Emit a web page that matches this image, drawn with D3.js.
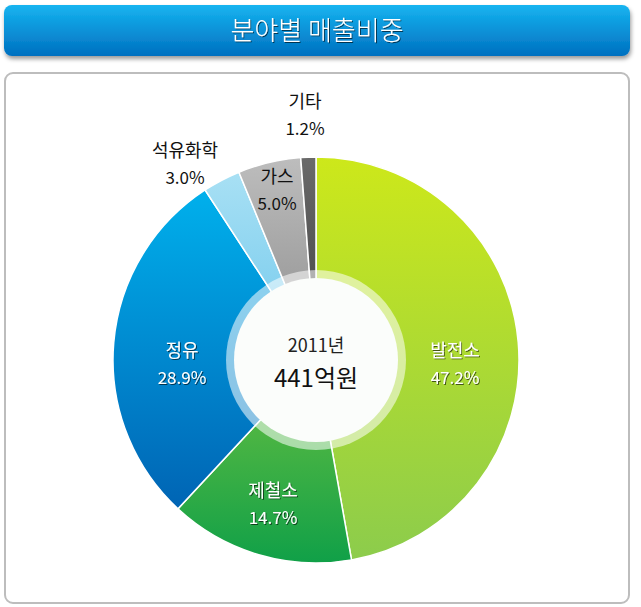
<!DOCTYPE html>
<html><head><meta charset="utf-8">
<script src="https://cdn.jsdelivr.net/npm/d3@7"></script>
<style>body{margin:0;background:#fff;font-family:"Noto Sans CJK KR","DejaVu Serif",serif;}</style>
</head><body>
<svg id="chart" width="641" height="607"></svg>
<script>
var categories = ["발전소", "제철소", "정유", "석유화학", "가스", "기타"];
var shares = [47.2, 14.7, 28.9, 3.0, 5.0, 1.2];
var colorsLight = ["#cde81a", "#6cc040", "#00b0ec", "#a8e0f4", "#bdbdbd", "#6a6a6a"];
var colorsDark = ["#8ccc4c", "#10a048", "#0064b4", "#70c8ec", "#8c8c8c", "#404040"];
// label anchors: inside (white) or outside (black), with custom positions
var labelPos = [[455, 357], [273, 497], [182, 357], [185, 157], [277, 183], [305, 108]];
var labelInside = [true, true, true, false, false, false];

var svg = d3.select("#chart");
var defs = svg.append("defs");

var tg = defs.append("linearGradient").attr("id", "titleGrad").attr("x1", 0).attr("y1", 0).attr("x2", 0).attr("y2", 1);
tg.append("stop").attr("offset", "0%").attr("stop-color", "#16b4f0");
tg.append("stop").attr("offset", "100%").attr("stop-color", "#0070c0");

var sh = defs.append("filter").attr("id", "shadow").attr("x", "-5%").attr("y", "-20%").attr("width", "110%").attr("height", "150%");
sh.append("feDropShadow").attr("dx", 1).attr("dy", 3).attr("stdDeviation", 2).attr("flood-opacity", 0.4);
var ts = defs.append("filter").attr("id", "tshadow");
ts.append("feDropShadow").attr("dx", 1).attr("dy", 1).attr("stdDeviation", 0.6).attr("flood-color", "#000").attr("flood-opacity", 0.6);

categories.forEach(function(c, i) {
    var g = defs.append("linearGradient").attr("id", "g" + i).attr("x1", 0).attr("y1", 0).attr("x2", 0).attr("y2", 1);
    g.append("stop").attr("offset", "0%").attr("stop-color", colorsLight[i]);
    g.append("stop").attr("offset", "100%").attr("stop-color", colorsDark[i]);
});

// title bar
svg.append("rect").attr("x", 4).attr("y", 5).attr("width", 626).attr("height", 51).attr("rx", 8)
    .attr("fill", "url(#titleGrad)").attr("filter", "url(#shadow)");
svg.append("text").attr("x", 317).attr("y", 40).attr("text-anchor", "middle")
    .attr("font-size", 26).attr("font-weight", 300).attr("fill", "#fff").attr("filter", "url(#tshadow)").text("분야별 매출비중");

// panel
svg.append("rect").attr("x", 5).attr("y", 73).attr("width", 624).attr("height", 530).attr("rx", 8)
    .attr("fill", "#fff").attr("stroke", "#bdbdbd").attr("stroke-width", 2);

var cx = 316, cy = 360;
var pie = d3.pie().sort(null).value(function(d) { return d; });
var arc = d3.arc().innerRadius(0).outerRadius(203);
var arcs = pie(shares);

var g = svg.append("g").attr("transform", "translate(" + cx + "," + cy + ")");
g.selectAll("path.slice").data(arcs).enter().append("path")
    .attr("class", "slice")
    .attr("d", arc)
    .attr("fill", function(d, i) { return "url(#g" + i + ")"; })
    .attr("stroke", "#fff").attr("stroke-width", 1.5);

g.append("circle").attr("r", 90).attr("fill", "#fff").attr("opacity", 0.55);
g.append("circle").attr("r", 82).attr("fill", "#fbfdfb");

g.append("text").attr("y", -8).attr("text-anchor", "middle").attr("font-size", 18).attr("fill", "#222").text("2011년");
g.append("text").attr("y", 27).attr("text-anchor", "middle").attr("font-size", 24).attr("fill", "#111").text("441억원");

var labels = svg.selectAll("g.lbl").data(categories).enter().append("g").attr("class", "lbl")
    .attr("transform", function(d, i) { return "translate(" + labelPos[i][0] + "," + labelPos[i][1] + ")"; });
labels.append("text").attr("text-anchor", "middle").attr("font-size", 18)
    .attr("fill", function(d, i) { return labelInside[i] ? "#fff" : "#111"; })
    .attr("filter", function(d, i) { return labelInside[i] ? "url(#tshadow)" : null; })
    .text(function(d) { return d; });
labels.append("text").attr("y", 27).attr("text-anchor", "middle").attr("font-size", 17)
    .attr("fill", function(d, i) { return labelInside[i] ? "#fff" : "#111"; })
    .attr("filter", function(d, i) { return labelInside[i] ? "url(#tshadow)" : null; })
    .text(function(d, i) { return shares[i].toFixed(1) + "%"; });
</script>
</body></html>
